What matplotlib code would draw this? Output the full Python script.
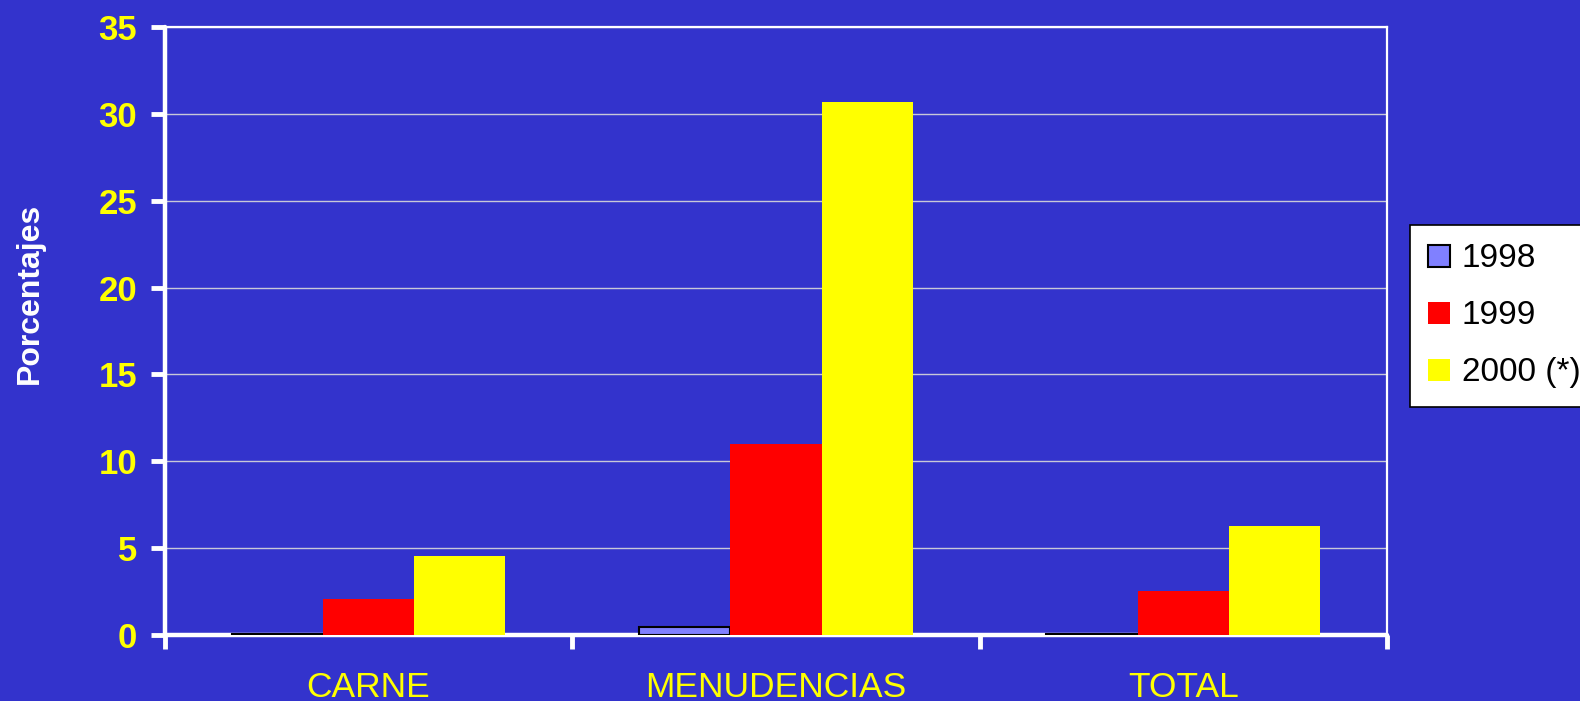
import matplotlib.pyplot as plt
import numpy as np

# Data
categories = ["CARNE", "MENUDENCIAS", "TOTAL"]
years = ["1998", "1999", "2000 (*)"]
v1998 = [0.05, 0.45, 0.05]
v1999 = [2.05, 11.0, 2.55]
v2000 = [4.55, 30.7, 6.3]
y_ticks = [0, 5, 10, 15, 20, 25, 30, 35]

bg = "#3333cc"
plt.rcParams['font.family'] = ['Liberation Sans', 'DejaVu Sans']

fig = plt.figure(figsize=(15.8, 7.01), dpi=100, facecolor=bg)
ax = fig.add_axes([0.1044, 0.0942, 0.7734, 0.8673], facecolor=bg)

x = np.arange(len(categories))
w = 0.224
ax.bar(x - w, v1998, w, color="#8080ff", edgecolor="black", linewidth=1.5,
       label=years[0], zorder=3)
ax.bar(x, v1999, w, color="#ff0000", linewidth=0, label=years[1], zorder=3)
ax.bar(x + w, v2000, w, color="#ffff00", linewidth=0, label=years[2], zorder=3)

ax.set_xlim(-0.5, len(categories) - 0.5)
ax.set_ylim(0, 35)
ax.set_yticks(y_ticks)
ax.yaxis.grid(True, color="#c8c8d8", linewidth=1, zorder=0)

# category boundary ticks + centred labels
ax.set_xticks(np.arange(len(categories) + 1) - 0.5)
ax.set_xticklabels([])
ax.set_xticks(x, minor=True)
ax.set_xticklabels(categories, minor=True)
ax.tick_params(axis="x", which="minor", length=0, pad=26, labelsize=25.5,
               labelcolor="#ffff00")
ax.tick_params(axis="x", which="major", length=10, width=3.5, color="white",
               direction="out")
ax.tick_params(axis="y", length=10, width=3.5, color="white", pad=10,
               labelsize=25, labelcolor="#ffff00")
for lbl in ax.get_yticklabels():
    lbl.set_fontweight("bold")
for t in ax.xaxis.get_major_ticks() + ax.yaxis.get_major_ticks():
    t.tick1line.set_solid_capstyle("round")

for side in ["left", "bottom"]:
    ax.spines[side].set_color("white")
    ax.spines[side].set_linewidth(3.2)
    ax.spines[side].set_capstyle("round")
for side in ["top", "right"]:
    ax.spines[side].set_color("white")
    ax.spines[side].set_linewidth(1.6)

fig.text(0.019, 0.581, "Porcentajes", rotation=90, color="white",
         fontsize=23, fontweight="bold", ha="center", va="center")

leg = fig.legend(loc="upper left", bbox_to_anchor=(0.8924, 0.679),
                 fontsize=24, frameon=True, fancybox=False,
                 edgecolor="black", facecolor="white", framealpha=1,
                 handlelength=0.65, handleheight=0.65, handletextpad=0.35,
                 labelspacing=0.78, borderpad=0.55, borderaxespad=0)
leg.get_frame().set_linewidth(1.2)

fig.savefig("out.png", dpi=100, facecolor=bg)
